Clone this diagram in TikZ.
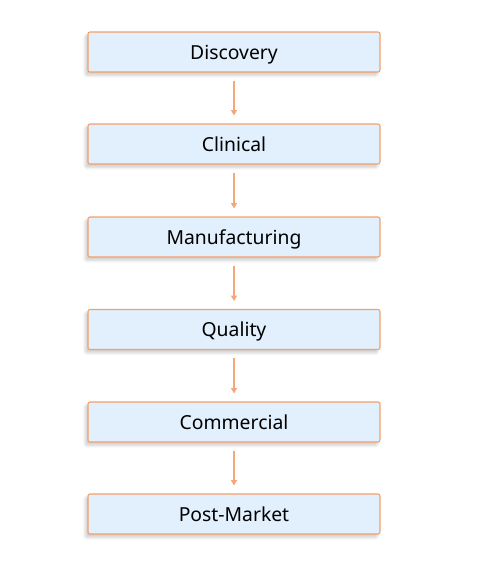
\documentclass[tikz,border=0pt]{standalone}
\usepackage{fontspec}
\setmainfont{Noto Sans}
\usetikzlibrary{arrows.meta,shadows.blur}
\definecolor{boxfill}{HTML}{E2EFFC}
\definecolor{boxline}{HTML}{F4A06A}
\definecolor{arrowc}{HTML}{F6A77A}
\tikzset{
  stage/.style={draw=boxline, line width=0.8pt, fill=boxfill, rounded corners=1.5pt,
    minimum width=292*0.75pt, minimum height=40*0.75pt, inner sep=0pt,
    text height=13.3pt, text depth=2.7pt,
    font=\fontsize{14.5}{16}\selectfont, text=black,
    blur shadow={shadow xshift=-2pt, shadow yshift=-2.5pt, shadow blur steps=8, shadow opacity=20}},
  flow/.style={draw=arrowc, line width=0.8pt, -{Triangle[length=4pt,width=4.5pt]}, shorten <=6pt, shorten >=6pt}
}
\begin{document}
\begin{tikzpicture}[x=0.75pt,y=-0.75pt]
\useasboundingbox (0,0) rectangle (483,567);
\node[stage] (a) at (234,52) {Discovery};
\node[stage] (b) at (234,144) {Clinical};
\node[stage] (c) at (234,237) {Manufacturing};
\node[stage] (d) at (234,329.5) {Quality};
\node[stage] (e) at (234,422) {Commercial};
\node[stage] (f) at (234,514) {Post-Market};
\draw[flow] (a) -- (b);
\draw[flow] (b) -- (c);
\draw[flow] (c) -- (d);
\draw[flow] (d) -- (e);
\draw[flow] (e) -- (f);
\end{tikzpicture}
\end{document}
